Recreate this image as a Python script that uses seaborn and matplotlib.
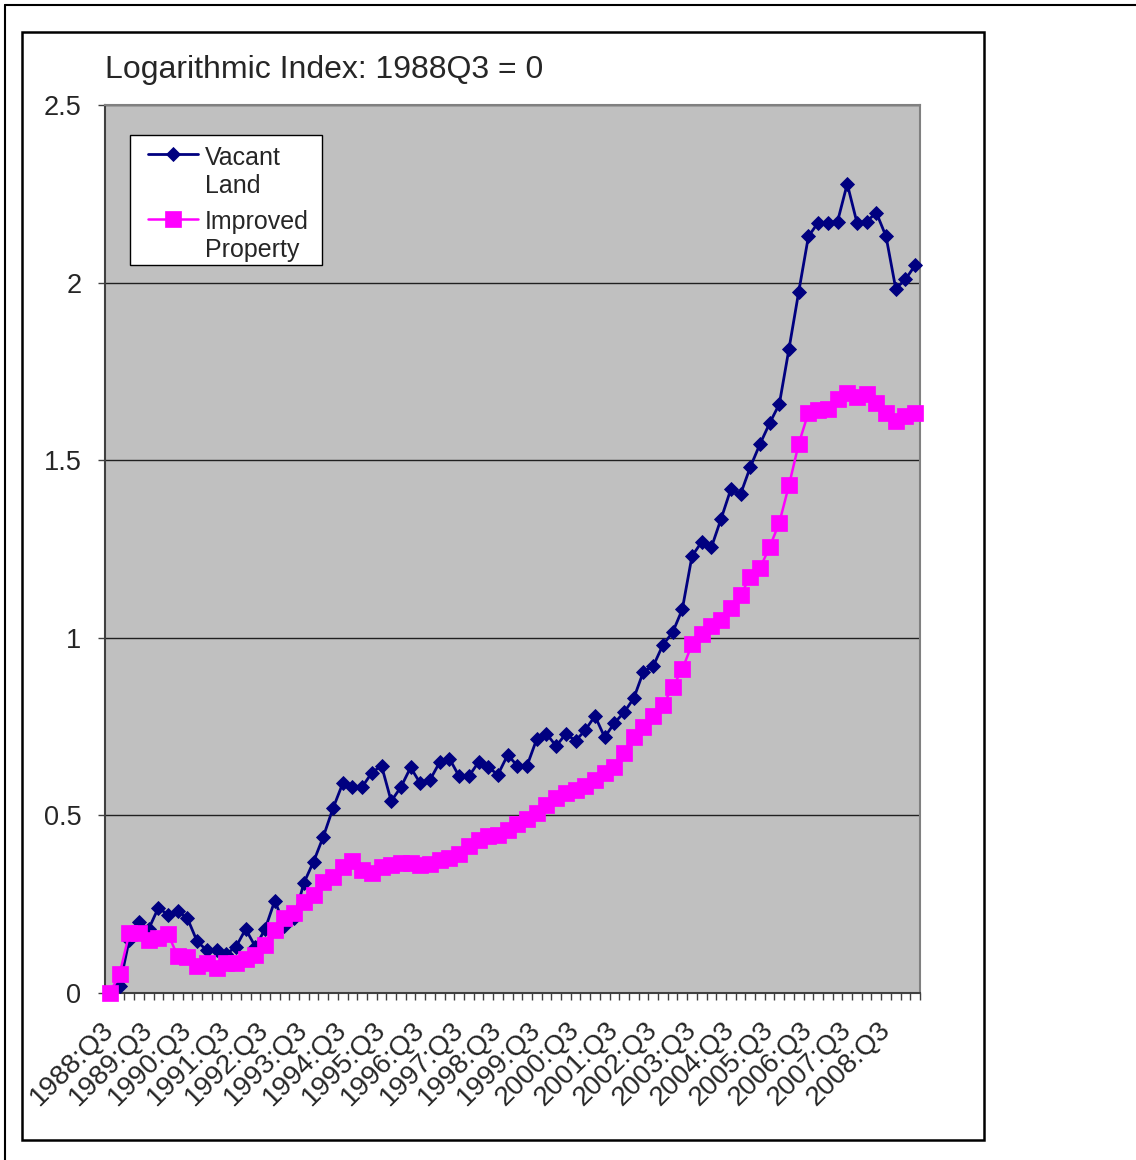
import matplotlib
matplotlib.use("Agg")
import matplotlib.pyplot as plt
from matplotlib.lines import Line2D
from matplotlib.patches import Rectangle
from matplotlib.transforms import ScaledTranslation
import numpy as np
import pandas as pd
import seaborn as sns

# Quarterly periods, 1988:Q3 through 2009:Q2
quarters = [f"{y}:Q{q}" for y in range(1988, 2010) for q in range(1, 5)][2:86]

tick_labels = ["1988:Q3", "1989:Q3", "1990:Q3", "1991:Q3", "1992:Q3", "1993:Q3",
               "1994:Q3", "1995:Q3", "1996:Q3", "1997:Q3", "1998:Q3", "1999:Q3",
               "2000:Q3", "2001:Q3", "2002:Q3", "2003:Q3", "2004:Q3", "2005:Q3",
               "2006:Q3", "2007:Q3", "2008:Q3"]

vacant_land = [0.00, 0.02, 0.15, 0.20, 0.18, 0.24, 0.22, 0.23, 0.21, 0.145,
               0.12, 0.12, 0.11, 0.13, 0.18, 0.13, 0.18, 0.26, 0.19, 0.21,
               0.31, 0.37, 0.44, 0.52, 0.59, 0.58, 0.58, 0.62, 0.64, 0.54,
               0.58, 0.635, 0.59, 0.60, 0.65, 0.66, 0.61, 0.61, 0.65, 0.635,
               0.615, 0.67, 0.64, 0.64, 0.715, 0.73, 0.695, 0.73, 0.71, 0.74,
               0.78, 0.72, 0.76, 0.79, 0.83, 0.905, 0.92, 0.98, 1.015, 1.08,
               1.23, 1.27, 1.255, 1.335, 1.418, 1.404, 1.48, 1.545, 1.604, 1.658,
               1.814, 1.974, 2.13, 2.169, 2.169, 2.172, 2.278, 2.169, 2.172, 2.197,
               2.13, 1.983, 2.009, 2.049]

improved_property = [0.00, 0.053, 0.168, 0.17, 0.149, 0.154, 0.165, 0.104, 0.102, 0.076,
                     0.084, 0.07, 0.084, 0.084, 0.095, 0.107, 0.135, 0.177, 0.21, 0.226,
                     0.255, 0.277, 0.313, 0.327, 0.356, 0.372, 0.346, 0.339, 0.354, 0.36,
                     0.365, 0.365, 0.36, 0.363, 0.374, 0.379, 0.391, 0.414, 0.43, 0.442,
                     0.445, 0.458, 0.475, 0.489, 0.508, 0.529, 0.548, 0.562, 0.571, 0.583,
                     0.60, 0.618, 0.637, 0.675, 0.722, 0.75, 0.78, 0.81, 0.861, 0.911,
                     0.982, 1.012, 1.034, 1.05, 1.083, 1.12, 1.172, 1.196, 1.255, 1.324,
                     1.43, 1.546, 1.634, 1.641, 1.643, 1.671, 1.688, 1.677, 1.686, 1.662,
                     1.632, 1.611, 1.624, 1.632]

y_ticks = [0, 0.5, 1, 1.5, 2, 2.5]
y_tick_labels = ["0", "0.5", "1", "1.5", "2", "2.5"]

sns.set_theme(style="white")
plt.rcParams["font.family"] = ["Liberation Sans", "DejaVu Sans"]

df = pd.DataFrame({
    "quarter": quarters,
    "pos": np.arange(len(quarters)),
    "Vacant Land": vacant_land,
    "Improved Property": improved_property,
})

W, H = 1136, 1160
fig = plt.figure(figsize=(W / 100, H / 100), dpi=100)
ax = fig.add_axes([105 / W, 1 - 993 / H, 815 / W, 888 / H])
ax.set_facecolor("#C0C0C0")

navy = "#000080"
magenta = "#FF00FF"
diamond = dict(marker="D", markersize=7.2, markeredgecolor=navy, markeredgewidth=0.6)
square = dict(marker="s", markersize=11, markeredgecolor=magenta, markeredgewidth=0.5)

sns.lineplot(data=df, x="pos", y="Vacant Land", ax=ax, color=navy, linewidth=2.0,
             errorbar=None, zorder=3, **diamond)
sns.lineplot(data=df, x="pos", y="Improved Property", ax=ax, color=magenta,
             linewidth=1.8, errorbar=None, zorder=4, **square)
for ln in ax.lines:
    ln.set_clip_on(False)

ax.set_xlim(-0.5, len(quarters) - 0.5)
ax.set_ylim(0, 2.5)
ax.set_xlabel("")
ax.set_ylabel("")

# y axis
ax.set_yticks(y_ticks, y_tick_labels, fontsize=19.5)
ax.tick_params(axis="y", left=True, direction="out", length=5, width=1,
               color="#404040", pad=12)
ax.yaxis.grid(True, color="#202020", linewidth=1.0)
ax.set_axisbelow(True)

# x axis: labels every 4 quarters, tick marks between categories
ax.set_xticks(np.arange(0, len(quarters), 4)[:len(tick_labels)], tick_labels,
              rotation=45, ha="right", rotation_mode="anchor", fontsize=20)
ax.set_xticks(np.arange(-0.5, len(quarters), 1), minor=True)
ax.tick_params(axis="x", which="major", bottom=True, length=0, pad=17)
ax.tick_params(axis="x", which="minor", bottom=True, direction="out", length=5,
               width=1, color="#404040")
shift = ScaledTranslation(-9 / 100, 0, fig.dpi_scale_trans)
for lab in ax.get_xticklabels():
    lab.set_transform(lab.get_transform() + shift)

for side in ["left", "bottom"]:
    ax.spines[side].set_color("#404040")
    ax.spines[side].set_linewidth(1.5)
for side in ["top", "right"]:
    ax.spines[side].set_color("#808080")
    ax.spines[side].set_linewidth(1.5)


def fx(px):
    return px / W


def fy(py):
    return 1 - py / H


# legend box with keys aligned to the first line of each label
fig.add_artist(Rectangle((fx(130), fy(265)), 192 / W, 130 / H, transform=fig.transFigure,
                         facecolor="white", edgecolor="black", linewidth=1.0, zorder=5))
for key_y, color, lw, style in [(154, navy, 2.0, diamond), (219, magenta, 1.8, square)]:
    fig.add_artist(Line2D([fx(148), fx(198)], [fy(key_y)] * 2, transform=fig.transFigure,
                          color=color, linewidth=lw, zorder=6))
    fig.add_artist(Line2D([fx(173)], [fy(key_y)], transform=fig.transFigure,
                          color=color, linestyle="none", zorder=7, **style))
for text, base in [("Vacant", 165), ("Land", 193), ("Improved", 229), ("Property", 257)]:
    fig.text(fx(205), fy(base), text, fontsize=18, ha="left", va="baseline", zorder=8)

fig.text(fx(105), fy(78), "Logarithmic Index: 1988Q3 = 0", fontsize=23,
         ha="left", va="baseline")

# chart frame and outer border
fig.add_artist(Rectangle((fx(22), fy(1140)), (984 - 22) / W, (1140 - 32) / H,
                         transform=fig.transFigure, fill=False, edgecolor="black",
                         linewidth=1.8))
fig.add_artist(Line2D([fx(5), 1], [fy(5), fy(5)], transform=fig.transFigure,
                      color="black", linewidth=1.5))
fig.add_artist(Line2D([fx(5), fx(5)], [0, fy(5)], transform=fig.transFigure,
                      color="black", linewidth=1.5))

fig.savefig("out.png", dpi=100)
